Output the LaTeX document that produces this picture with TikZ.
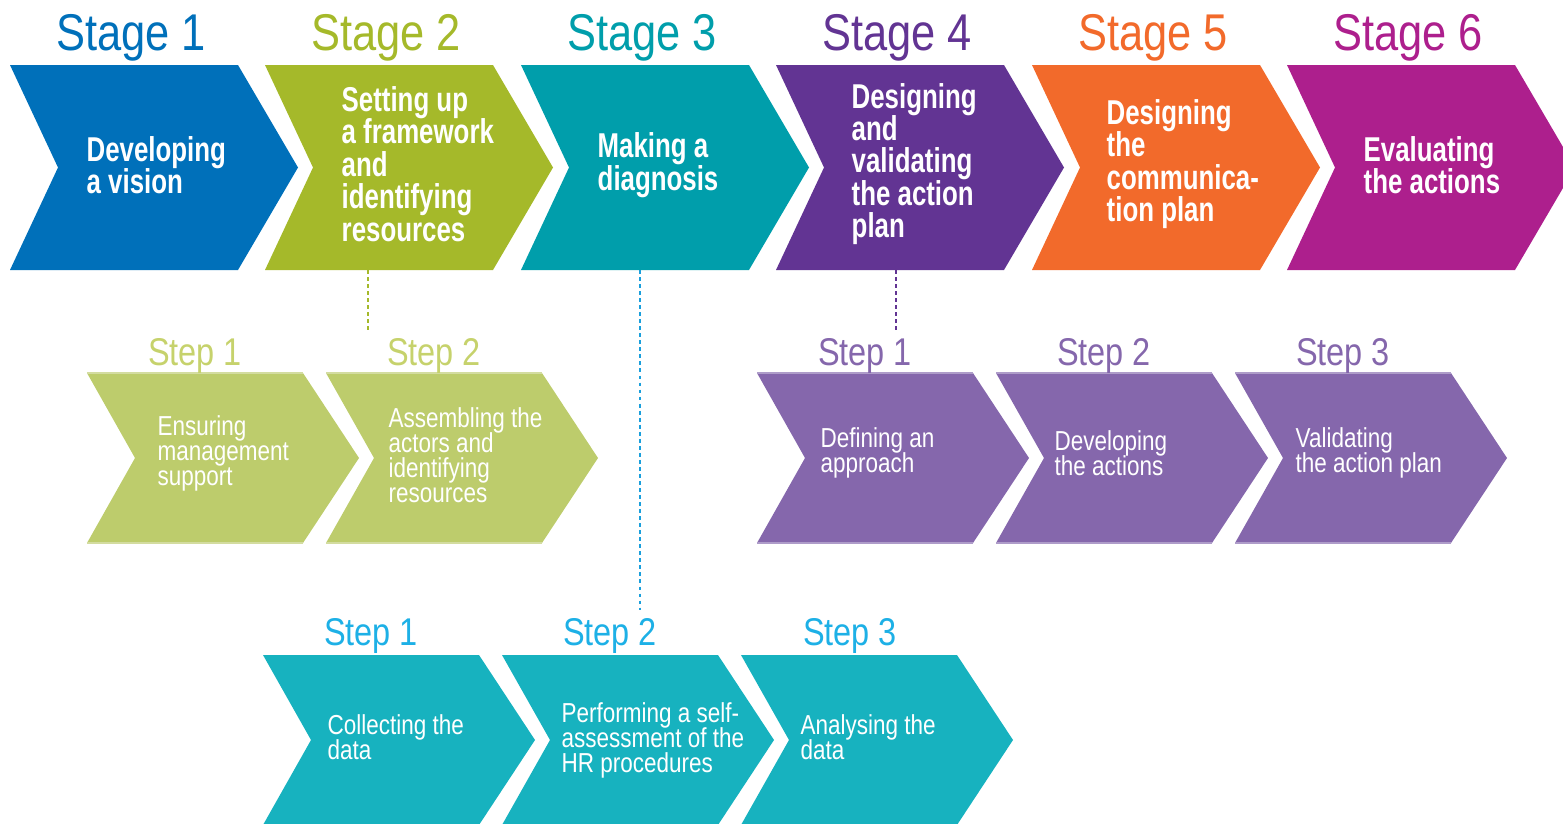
\documentclass[tikz,border=0pt]{standalone}
\usepackage{fontspec}
\setmainfont{Liberation Sans}
\newfontfamily\lblfont[FakeStretch=0.84]{Liberation Sans}
\newfontfamily\stgfont[FakeStretch=0.75]{Liberation Sans}
\newfontfamily\stpfont[FakeStretch=0.82]{Liberation Sans}
\setlength{\lineskiplimit}{-30pt}
\definecolor{c1}{HTML}{0070BA}
\definecolor{c2}{HTML}{A5B92A}
\definecolor{c3}{HTML}{009EAB}
\definecolor{c4}{HTML}{623493}
\definecolor{c5}{HTML}{F26A2B}
\definecolor{c6}{HTML}{AD1F8D}
\definecolor{gs}{HTML}{BDCC6C}
\definecolor{gl}{HTML}{C6D26C}
\definecolor{ge}{HTML}{D3DCA0}
\definecolor{ps}{HTML}{8567AC}
\definecolor{pe}{HTML}{AE9CC9}
\definecolor{ts}{HTML}{17B2BF}
\definecolor{tl}{HTML}{1DB0E6}
\definecolor{bd}{HTML}{1A9FDC}
\newcommand{\stagechev}[2]{\fill[#1] (#2,65) -- (#2+228,65) -- (#2+288,167.5) -- (#2+228,270) -- (#2,270) -- (#2+48,167.5) -- cycle;}
\newcommand{\stepchev}[3]{\fill[#1] (#2,#3) -- (#2+216,#3) -- (#2+272,#3+85) -- (#2+216,#3+170) -- (#2,#3+170) -- (#2+48,#3+85) -- cycle;}
\newcommand{\stepedge}[3]{\draw[#1,line width=0.5pt] (#2,#3) -- (#2+216,#3) (#2,#3+170) -- (#2+216,#3+170);}
\begin{document}
\begin{tikzpicture}[x=0.01cm,y=-0.01cm,
  stagelab/.style={anchor=base,inner sep=0,font=\lblfont\fontsize{14.7}{16}\selectfont},
  steplab/.style={anchor=base,inner sep=0,font=\lblfont\fontsize{11}{12}\selectfont},
  stagetxt/.style={anchor=west,align=left,inner sep=0,text=white,font=\stgfont\bfseries\fontsize{9.8}{9.2}\selectfont},
  steptxt/.style={anchor=west,align=left,inner sep=0,text=white,font=\stpfont\fontsize{7.8}{7.1}\selectfont},
  dotline/.style={line width=0.8pt,dash pattern=on 1.1pt off 0.9pt}]
\useasboundingbox (0,0) rectangle (1563,824);
\clip (0,0) rectangle (1563,824);
% stages
\stagechev{c1}{10}
\stagechev{c2}{265}
\stagechev{c3}{521}
\stagechev{c4}{776}
\stagechev{c5}{1032}
\stagechev{c6}{1287}
\node[stagelab,text=c1] (sl1) at (131,51) {Stage 1};
\node[stagelab,text=c2] (sl2) at (386,51) {Stage 2};
\node[stagelab,text=c3] (sl3) at (642,51) {Stage 3};
\node[stagelab,text=c4] (sl4) at (897,51) {Stage 4};
\node[stagelab,text=c5] (sl5) at (1153,51) {Stage 5};
\node[stagelab,text=c6] (sl6) at (1408,51) {Stage 6};
\node[stagetxt] (st1) at (86,165) {Developing\\a vision};
\node[stagetxt] (st2) at (341,164) {Setting up\\a framework\\and\\identifying\\resources};
\node[stagetxt] (st3) at (597,165) {Making a\\diagnosis};
\node[stagetxt] (st4) at (851,164) {Designing\\and\\validating\\the action\\plan};
\node[stagetxt] (st5) at (1106,164) {Designing\\the\\communica-\\tion plan};
\node[stagetxt] (st6) at (1363,165) {Evaluating\\the actions};
% steps of stage 2
\stepchev{gs}{87}{373}
\stepchev{gs}{326}{373}
\stepedge{ge}{87}{373}
\stepedge{ge}{326}{373}
\node[steplab,text=gl] (g1l) at (195,365) {Step 1};
\node[steplab,text=gl] (g2l) at (434,365) {Step 2};
\node[steptxt] (g1t) at (157,453) {Ensuring\\management\\support};
\node[steptxt] (g2t) at (388,455) {Assembling the\\actors and\\identifying\\resources};
% steps of stage 4
\stepchev{ps}{757}{373}
\stepchev{ps}{996}{373}
\stepchev{ps}{1235}{373}
\stepedge{pe}{757}{373}
\stepedge{pe}{996}{373}
\stepedge{pe}{1235}{373}
\node[steplab,text=ps] (p1l) at (865,365) {Step 1};
\node[steplab,text=ps] (p2l) at (1104,365) {Step 2};
\node[steplab,text=ps] (p3l) at (1343,365) {Step 3};
\node[steptxt] (p1t) at (820,453) {Defining an\\approach};
\node[steptxt] (p2t) at (1054,453) {Developing\\the actions};
\node[steptxt] (p3t) at (1295,453) {Validating\\the action plan};
% steps of stage 3
\stepchev{ts}{263}{655}
\stepchev{ts}{502}{655}
\stepchev{ts}{741}{655}
\node[steplab,text=tl] (t1l) at (371,645) {Step 1};
\node[steplab,text=tl] (t2l) at (610,645) {Step 2};
\node[steplab,text=tl] (t3l) at (850,645) {Step 3};
\node[steptxt] (t1t) at (327,737) {Collecting the\\data};
\node[steptxt] (t2t) at (561,740) {Performing a self-\\assessment of the\\HR procedures};
\node[steptxt] (t3t) at (800,737) {Analysing the\\data};
% dotted connectors
\coordinate (s2b) at (368,270);
\coordinate (g2e) at (368,330);
\coordinate (s3b) at (640,270);
\coordinate (t2e) at (640,610);
\coordinate (s4b) at (896,270);
\coordinate (p1e) at (896,332);
\draw[dotline,c2] (s2b) -- (g2e);
\draw[dotline,bd] (s3b) -- (t2e);
\draw[dotline,c4] (s4b) -- (p1e);
\end{tikzpicture}
\end{document}
